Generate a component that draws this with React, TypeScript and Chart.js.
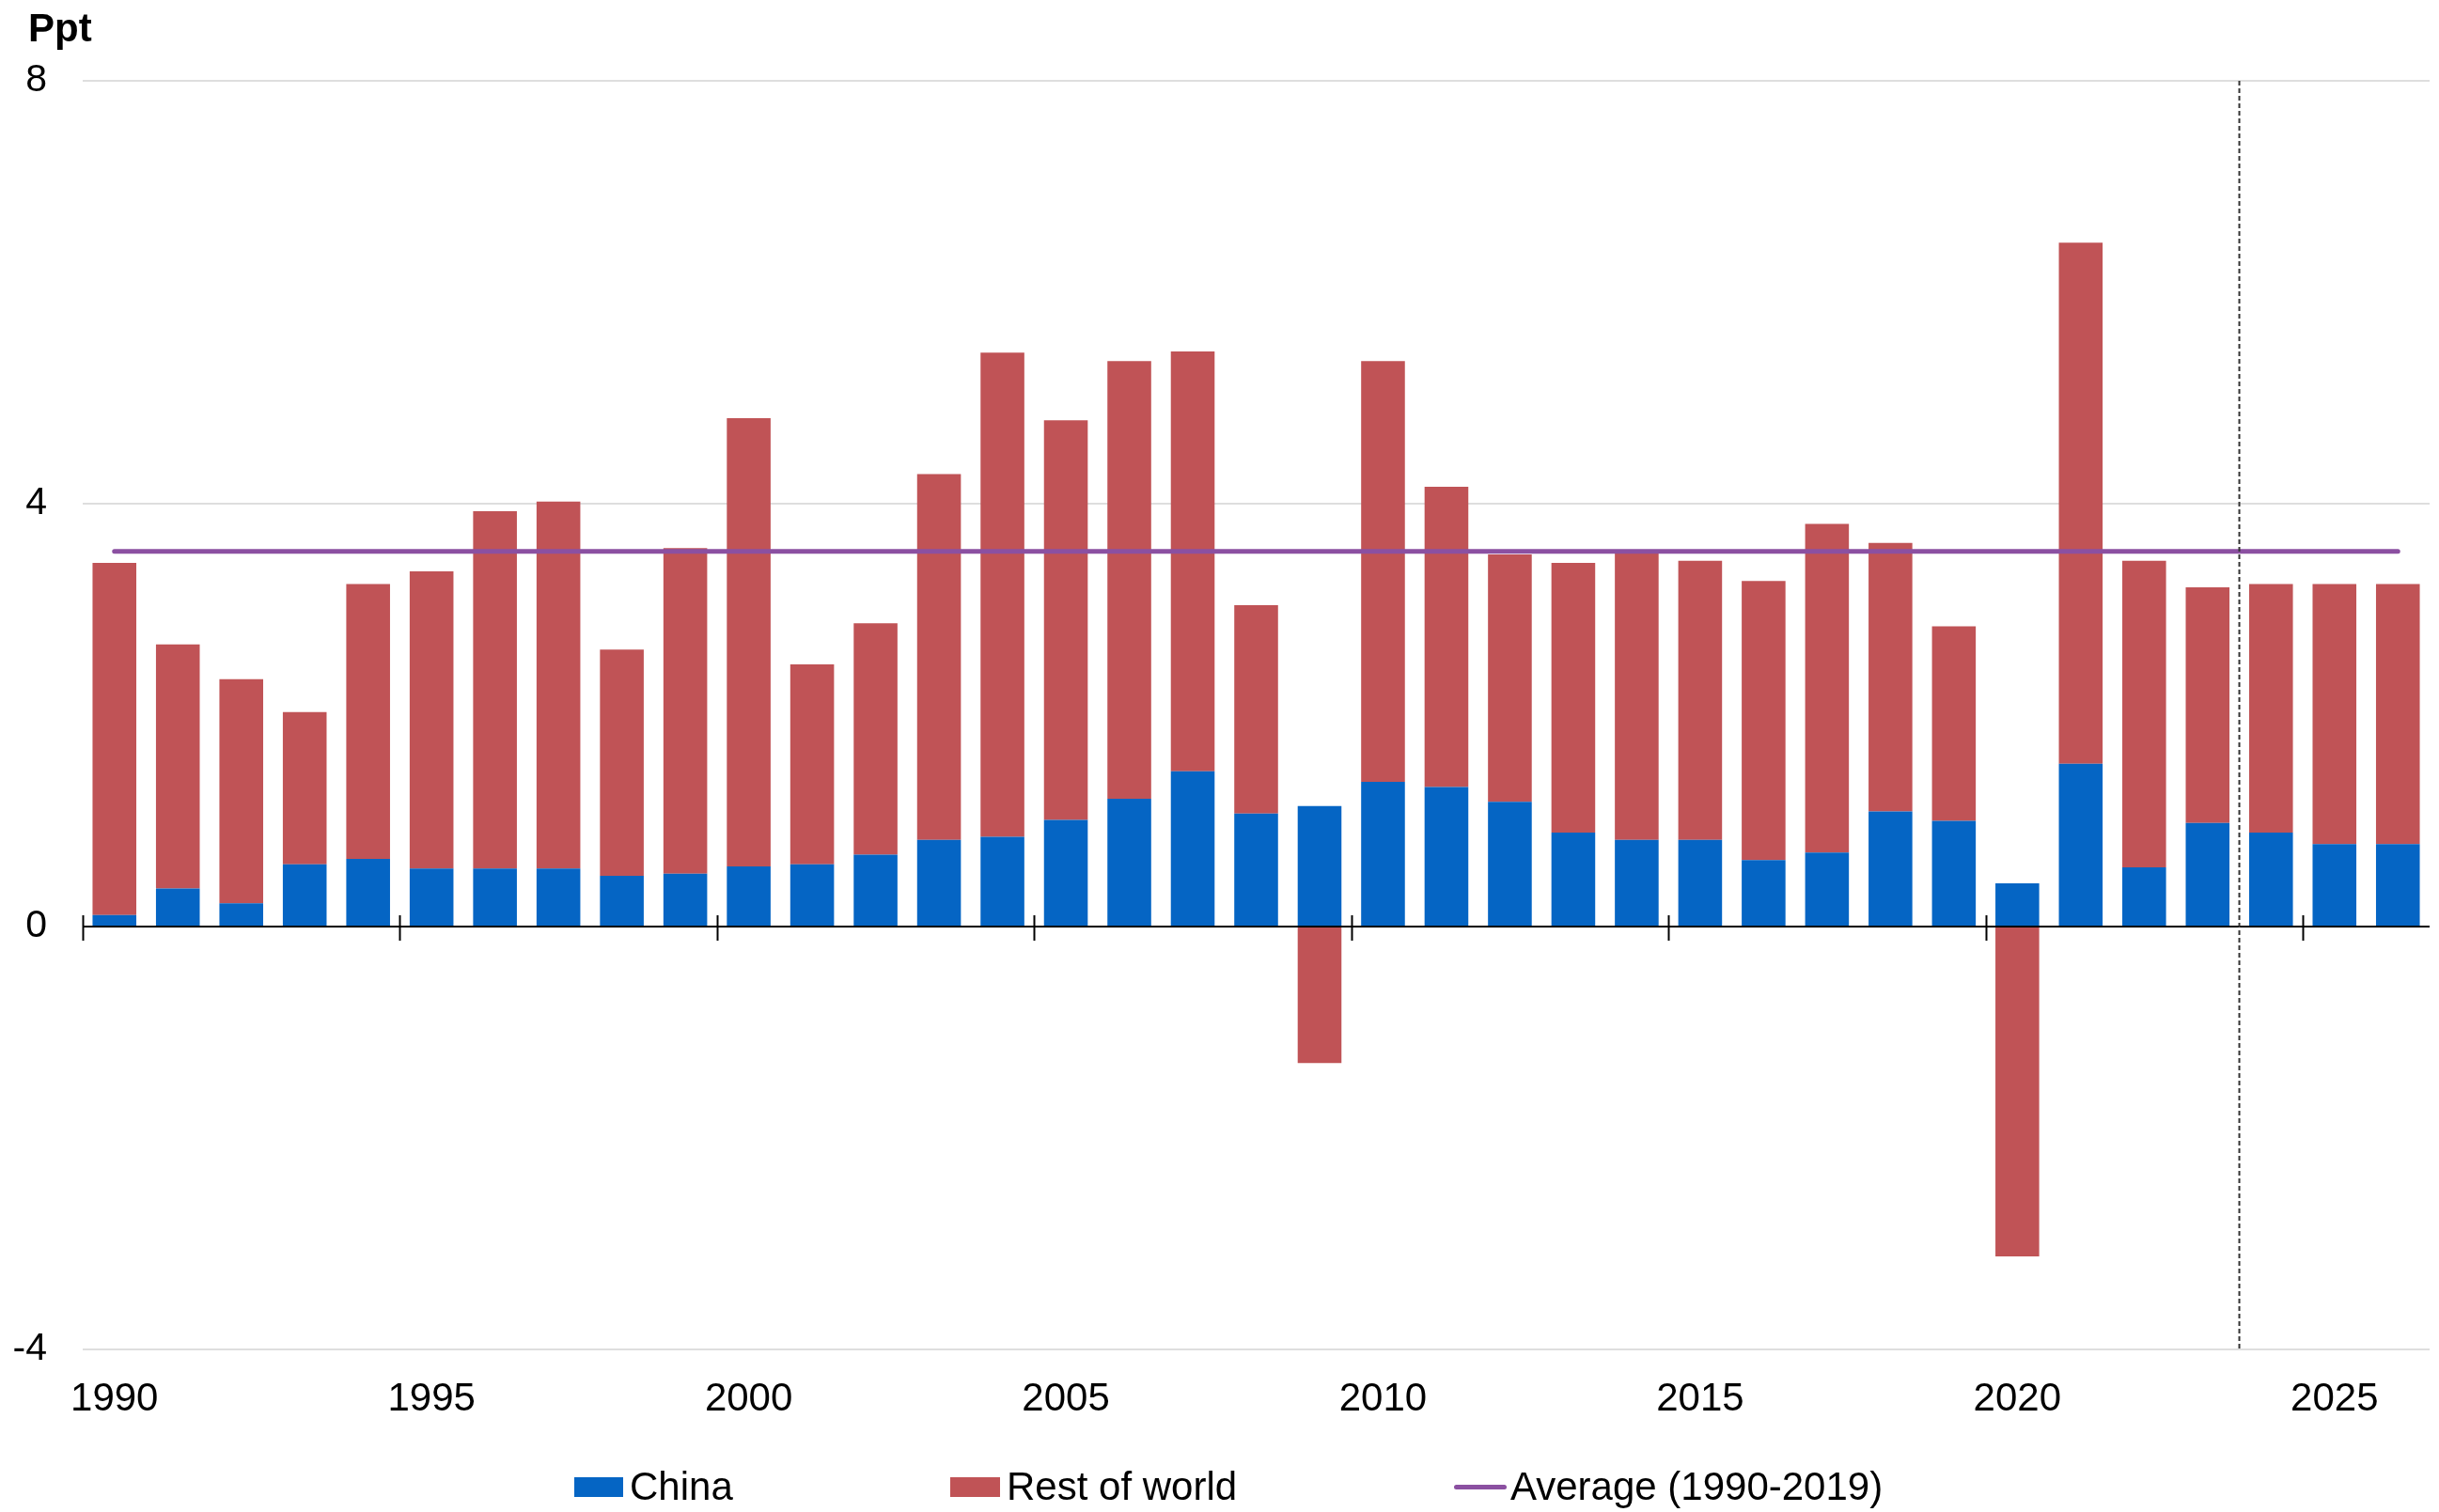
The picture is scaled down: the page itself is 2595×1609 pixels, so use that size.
import React, { useEffect, useRef } from "react";
import { Chart, registerables } from "chart.js";

Chart.register(...registerables);

const years = [
  "1990", "1991", "1992", "1993", "1994", "1995", "1996", "1997", "1998", "1999",
  "2000", "2001", "2002", "2003", "2004", "2005", "2006", "2007", "2008", "2009",
  "2010", "2011", "2012", "2013", "2014", "2015", "2016", "2017", "2018", "2019",
  "2020", "2021", "2022", "2023", "2024", "2025", "2026",
];

const china = [
  0.11, 0.36, 0.22, 0.59, 0.64, 0.55, 0.55, 0.55, 0.48, 0.5,
  0.57, 0.59, 0.68, 0.82, 0.85, 1.01, 1.21, 1.47, 1.07, 1.14,
  1.37, 1.32, 1.18, 0.89, 0.82, 0.82, 0.63, 0.7, 1.09, 1.0,
  0.41, 1.54, 0.56, 0.98, 0.89, 0.78, 0.78,
];

const restOfWorld = [
  3.33, 2.31, 2.12, 1.44, 2.6, 2.81, 3.38, 3.47, 2.14, 3.08,
  4.24, 1.89, 2.19, 3.46, 4.58, 3.78, 4.14, 3.97, 1.97, -1.29,
  3.98, 2.84, 2.34, 2.55, 2.74, 2.64, 2.64, 3.11, 2.54, 1.84,
  -3.12, 4.93, 2.9, 2.23, 2.35, 2.46, 2.46,
];

const averageValue = 3.55;
const averageSeries = years.map(() => averageValue);

const labelledYears = ["1990", "1995", "2000", "2005", "2010", "2015", "2020", "2025"];
const forecastStart = "2024";
const yTicks = [-4, 0, 4, 8];

const BLUE = "#0565c4";
const RED = "#c05356";
const PURPLE = "#8b50a1";
const FONT = "'Liberation Sans', Arial, sans-serif";

const overlayPlugin = {
  id: "overlay",
  afterDatasetsDraw(chart: any) {
    const { ctx, chartArea, scales } = chart;
    const x = scales.x;
    const y = scales.y;
    const step = x.getPixelForValue(1) - x.getPixelForValue(0);
    const y0 = y.getPixelForValue(0);
    ctx.save();
    // zero line
    ctx.strokeStyle = "#000";
    ctx.lineWidth = 2;
    ctx.beginPath();
    ctx.moveTo(chartArea.left, y0);
    ctx.lineTo(chartArea.right, y0);
    ctx.stroke();
    // cross ticks at category boundaries
    years.forEach((yr, i) => {
      if (labelledYears.includes(yr)) {
        const px = Math.round(x.getPixelForValue(i) - step / 2) + 0.5;
        ctx.beginPath();
        ctx.moveTo(px, y0 - 12);
        ctx.lineTo(px, y0 + 15);
        ctx.stroke();
      }
    });
    // forecast divider
    const fi = years.indexOf(forecastStart);
    const fx = x.getPixelForValue(fi) - step / 2;
    ctx.strokeStyle = "#333";
    ctx.lineWidth = 2;
    ctx.setLineDash([5, 3]);
    ctx.beginPath();
    ctx.moveTo(fx, chartArea.top);
    ctx.lineTo(fx, chartArea.bottom);
    ctx.stroke();
    ctx.setLineDash([]);
    // unit label
    ctx.fillStyle = "#000";
    ctx.font = `bold 42px ${FONT}`;
    ctx.textAlign = "left";
    ctx.textBaseline = "alphabetic";
    ctx.fillText("Ppt", 30, 44);
    ctx.restore();
  },
};

export default function App() {
  const canvasRef = useRef<HTMLCanvasElement | null>(null);

  useEffect(() => {
    if (!canvasRef.current) return;
    const chart = new Chart(canvasRef.current, {
      type: "bar",
      data: {
        labels: years,
        datasets: [
          {
            type: "line",
            label: "Average (1990-2019)",
            data: averageSeries,
            borderColor: PURPLE,
            backgroundColor: PURPLE,
            borderWidth: 5,
            borderCapStyle: "round",
            pointRadius: 0,
            stack: "avg",
            order: 0,
          } as any,
          {
            label: "China",
            data: china,
            backgroundColor: BLUE,
            stack: "bars",
            order: 1,
            barPercentage: 0.69,
            categoryPercentage: 1,
          },
          {
            label: "Rest of world",
            data: restOfWorld,
            backgroundColor: RED,
            stack: "bars",
            order: 1,
            barPercentage: 0.69,
            categoryPercentage: 1,
          },
        ],
      },
      options: {
        animation: false,
        responsive: true,
        maintainAspectRatio: false,
        layout: { padding: { top: 86, right: 10, left: 0, bottom: 0 } },
        plugins: {
          legend: { display: false },
          tooltip: { enabled: false },
          title: { display: false },
        },
        scales: {
          x: {
            stacked: true,
            grid: { display: false, drawTicks: false },
            border: { display: false },
            ticks: {
              autoSkip: false,
              maxRotation: 0,
              padding: 28,
              color: "#000",
              font: { family: FONT, size: 42 },
              callback: (_v: any, i: number) => (labelledYears.includes(years[i]) ? years[i] : ""),
            },
            afterFit: (scale: any) => {
              scale.height = 173;
            },
          },
          y: {
            stacked: true,
            min: yTicks[0],
            max: yTicks[yTicks.length - 1],
            afterBuildTicks: (scale: any) => {
              scale.ticks = yTicks.map((v) => ({ value: v }));
            },
            grid: {
              drawTicks: false,
              lineWidth: 2,
              color: (c: any) => (c.tick && c.tick.value === 0 ? "rgba(0,0,0,0)" : "#dedede"),
            },
            border: { display: false },
            ticks: {
              padding: 38,
              color: "#000",
              font: { family: FONT, size: 41 },
            },
            afterFit: (scale: any) => {
              scale.width = 88;
            },
          },
        },
      },
      plugins: [overlayPlugin],
    });
    return () => chart.destroy();
  }, []);

  const legendText: React.CSSProperties = {
    fontFamily: FONT,
    fontSize: 42,
    lineHeight: "42px",
    color: "#000",
    whiteSpace: "nowrap",
  };

  return (
    <div style={{ position: "fixed", left: 0, top: 0, width: 2595, height: 1609, background: "#fff" }}>
      <canvas ref={canvasRef} />
      <div style={{ position: "absolute", top: 1561, left: 611, display: "flex", alignItems: "center", height: 42 }}>
        <div style={{ width: 52, height: 21, background: BLUE, marginRight: 7 }} />
        <span style={legendText}>China</span>
      </div>
      <div style={{ position: "absolute", top: 1561, left: 1011, display: "flex", alignItems: "center", height: 42 }}>
        <div style={{ width: 53, height: 21, background: RED, marginRight: 7 }} />
        <span style={legendText}>Rest of world</span>
      </div>
      <div style={{ position: "absolute", top: 1561, left: 1547, display: "flex", alignItems: "center", height: 42 }}>
        <div style={{ width: 56, height: 5, borderRadius: 2.5, background: PURPLE, marginRight: 4 }} />
        <span style={legendText}>Average (1990-2019)</span>
      </div>
    </div>
  );
}
